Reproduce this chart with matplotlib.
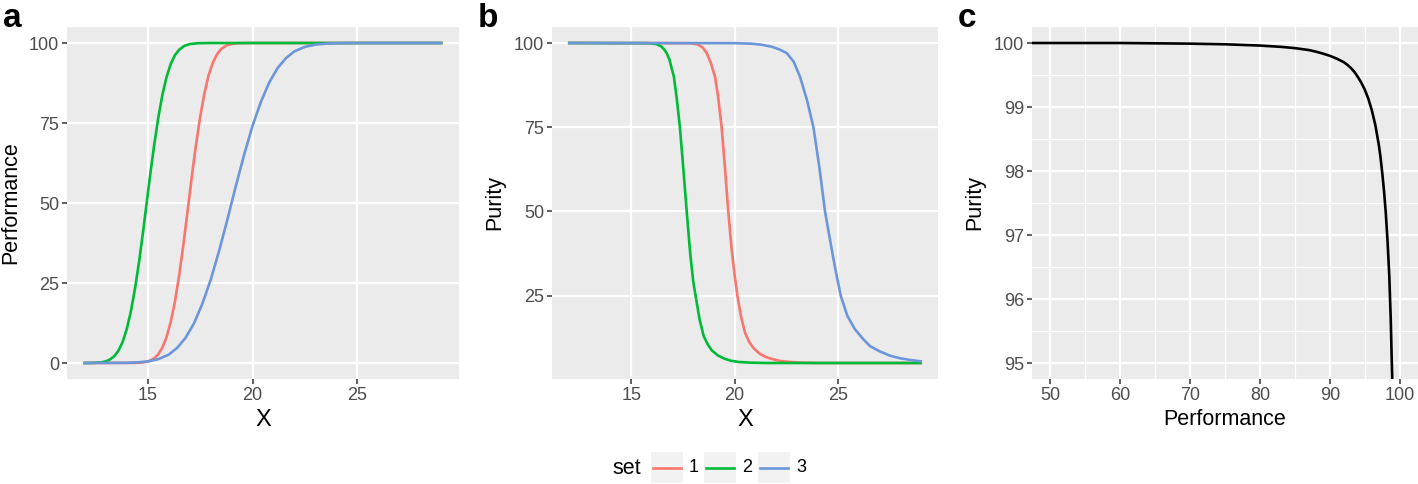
import matplotlib
matplotlib.use("Agg")
import matplotlib.pyplot as plt
from matplotlib.patches import Rectangle
from matplotlib.lines import Line2D
from matplotlib.ticker import MultipleLocator

plt.rcParams['font.family'] = ['Liberation Sans', 'DejaVu Sans']

# colours of the three sets
set_names = ['1', '2', '3']
set_colors = ['#F8766D', '#00BA38', '#6C96DA']

# panel a: Performance vs X
perf_x1 = [12, 14.5, 14.8, 15.1, 15.3, 15.5, 15.7, 15.9, 16.1, 16.3, 16.5, 16.7, 16.85, 17.0, 17.15, 17.3,
           17.5, 17.7, 17.9, 18.1, 18.3, 18.5, 18.75, 19.0, 19.4, 20, 29]
perf_y1 = [0, 0.05, 0.2, 0.7, 1.4, 2.7, 4.8, 8.1, 12.9, 19.2, 27.4, 36.9, 44.7, 52.7, 60.6, 68.0,
           76.8, 84.1, 89.8, 93.7, 96.4, 98.1, 99.2, 99.7, 99.95, 100, 100]
perf_x2 = [12, 12.5, 12.8, 13.0, 13.2, 13.4, 13.6, 13.8, 14.0, 14.2, 14.4, 14.6, 14.8, 14.95, 15.1, 15.3,
           15.5, 15.7, 15.9, 16.1, 16.3, 16.5, 16.75, 17.0, 17.4, 18, 29]
perf_y2 = [0, 0.06, 0.23, 0.5, 1.1, 2.1, 3.8, 6.5, 10.6, 16.2, 23.5, 32.2, 42.1, 50, 57.9, 67.7,
           76.5, 83.8, 89.4, 93.5, 96.2, 97.9, 99.1, 99.65, 99.94, 100, 100]
perf_x3 = [12, 14.0, 14.5, 15.0, 15.5, 16.0, 16.4, 16.8, 17.2, 17.6, 18.0, 18.4, 18.8, 19.2, 19.6, 20.0,
           20.4, 20.8, 21.2, 21.6, 22.0, 22.5, 23.0, 23.6, 24.5, 25.5, 29]
perf_y3 = [0, 0.06, 0.19, 0.5, 1.2, 2.6, 4.7, 7.8, 12.3, 18.4, 25.9, 34.9, 44.8, 55.2, 65.1, 74.1,
           81.6, 87.7, 92.2, 95.3, 97.4, 98.8, 99.5, 99.85, 99.98, 100, 100]

# panel b: Purity vs X
pur_x1 = [12, 17.8, 18.2, 18.45, 18.65, 18.85, 19.05, 19.2, 19.37, 19.53, 19.69, 19.85, 20.0, 20.13,
          20.3, 20.5, 20.7, 20.9, 21.2, 21.5, 21.8, 22.2, 22.7, 23.3, 24, 29]
pur_y1 = [100, 99.95, 99.6, 98.7, 97, 94, 90, 84, 75, 63, 50, 39, 31, 25,
          19, 14, 11.3, 9.5, 7.8, 6.8, 6.2, 5.6, 5.3, 5.1, 5.0, 5]
pur_x2 = [12, 15.8, 16.2, 16.45, 16.6, 16.71, 16.85, 16.95, 17.06, 17.2, 17.35, 17.5, 17.68, 17.85,
          18.0, 18.11, 18.3, 18.5, 18.7, 18.9, 19.2, 19.5, 19.8, 20.2, 20.8, 21.5, 29]
pur_y2 = [100, 99.95, 99.7, 99, 98, 97, 95, 92.5, 90, 83.5, 75, 64, 50, 37.5,
          29, 25, 18, 13, 10.5, 8.7, 7.2, 6.3, 5.7, 5.3, 5.1, 5.0, 5]
pur_x3 = [12, 20.0, 20.8, 21.3, 21.8, 22.2, 22.52, 22.85, 23.16, 23.5, 23.81, 24.1, 24.37, 24.6,
          24.85, 25.13, 25.45, 25.82, 26.2, 26.55, 27.0, 27.5, 28.0, 28.5, 29]
pur_y3 = [100, 99.95, 99.8, 99.5, 98.9, 98, 97, 94.5, 90, 83, 75, 63, 50, 42,
          33.5, 25, 19, 15, 12.2, 10, 8.5, 7.2, 6.4, 5.9, 5.5]

# panel c: Purity vs Performance
roc_perf = [40, 50, 60, 70, 75, 80, 83, 85, 87, 88, 89, 90, 91, 92, 92.5, 93, 93.5, 94, 94.5, 95,
            95.5, 96, 96.5, 97, 97.25, 97.5, 97.75, 98, 98.25, 98.5, 98.7, 98.86, 99.0]
roc_pur = [100, 100, 100, 99.99, 99.98, 99.96, 99.94, 99.92, 99.89, 99.865, 99.835, 99.80, 99.755, 99.70,
           99.66, 99.61, 99.55, 99.47, 99.38, 99.27, 99.13, 98.95, 98.72, 98.41, 98.21, 97.96, 97.68,
           97.34, 96.9, 96.35, 95.7, 95.0, 94.4]

W, H = 1418, 484
fig = plt.figure(figsize=(W / 100, H / 100), dpi=100)

BG = '#EBEBEB'


def gg_axes(rect, minor=False):
    ax = fig.add_axes(rect)
    ax.set_facecolor(BG)
    for s in ax.spines.values():
        s.set_visible(False)
    ax.grid(True, which='major', color='white', linewidth=1.6)
    if minor:
        ax.grid(True, which='minor', color='white', linewidth=0.9)
    ax.set_axisbelow(True)
    ax.tick_params(which='major', length=3.5, width=1.1, color='#333333',
                   labelsize=13, labelcolor='#4D4D4D', pad=2)
    ax.tick_params(which='minor', length=0)
    return ax


def px(x0, y0, x1, y1):
    # pixel box (from top-left) to figure fraction rect
    return [x0 / W, 1 - y1 / H, (x1 - x0) / W, (y1 - y0) / H]


lw = 1.9

# ---- panel a
ax_a = gg_axes(px(67, 27, 459, 379))
ax_a.plot(perf_x1, perf_y1, color=set_colors[0], lw=lw)
ax_a.plot(perf_x2, perf_y2, color=set_colors[1], lw=lw)
ax_a.plot(perf_x3, perf_y3, color=set_colors[2], lw=lw)
ax_a.set_xlim(11.15, 29.85)
ax_a.set_ylim(-5, 105)
ax_a.set_xticks([15, 20, 25])
ax_a.set_yticks([0, 25, 50, 75, 100])
ax_a.set_xlabel('X', fontsize=17, labelpad=4)
ax_a.set_ylabel('Performance', fontsize=15.5, labelpad=6)

# ---- panel b
ax_b = gg_axes(px(551.7, 27, 938.3, 379))
ax_b.plot(pur_x1, pur_y1, color=set_colors[0], lw=lw)
ax_b.plot(pur_x2, pur_y2, color=set_colors[1], lw=lw)
ax_b.plot(pur_x3, pur_y3, color=set_colors[2], lw=lw)
ax_b.set_xlim(11.15, 29.85)
ax_b.set_ylim(0.25, 104.75)
ax_b.set_xticks([15, 20, 25])
ax_b.set_yticks([25, 50, 75, 100])
ax_b.set_xlabel('X', fontsize=17, labelpad=4)
ax_b.set_ylabel('Purity', fontsize=15.5, labelpad=6)

# ---- panel c
ax_c = gg_axes(px(1031.7, 27, 1418, 379), minor=True)
ax_c.plot(roc_perf, roc_pur, color='black', lw=lw)
ax_c.set_xlim(47.4, 102.6)
ax_c.set_ylim(94.75, 100.25)
ax_c.set_xticks([50, 60, 70, 80, 90, 100])
ax_c.set_yticks([95, 96, 97, 98, 99, 100])
ax_c.xaxis.set_minor_locator(MultipleLocator(5))
ax_c.yaxis.set_minor_locator(MultipleLocator(0.5))
ax_c.set_xlabel('Performance', fontsize=15.5, labelpad=4)
ax_c.set_ylabel('Purity', fontsize=15.5, labelpad=6)

# panel letters
for lab, x in zip(['a', 'b', 'c'], [3, 478, 958]):
    fig.text(x / W, 1 - 27 / H, lab, fontsize=24, fontweight='bold',
             ha='left', va='baseline')

# legend at the bottom
fig.text(612 / W, 1 - 468 / H, 'set', fontsize=15.5, ha='left', va='center')
key_left = [651, 704, 758]
for name, col, kx in zip(set_names, set_colors, key_left):
    fig.add_artist(Rectangle((kx / W, 1 - 483 / H), 32 / W, 31 / H,
                             transform=fig.transFigure, facecolor='#F2F2F2',
                             edgecolor='none'))
    fig.add_artist(Line2D([(kx + 2) / W, (kx + 30) / W], [1 - 467.5 / H] * 2,
                          transform=fig.transFigure, color=col, lw=lw))
    fig.text((kx + 38) / W, 1 - 468 / H, name, fontsize=13, ha='left',
             va='center')

fig.savefig('out.png', dpi=100)
